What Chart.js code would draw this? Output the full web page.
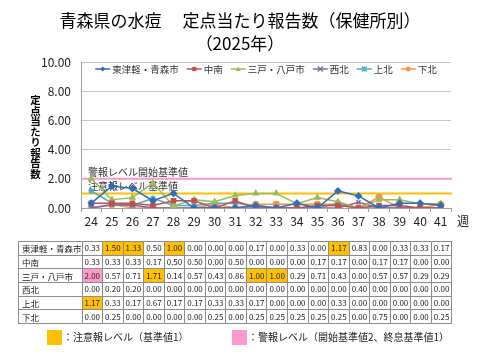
<!DOCTYPE html>
<html lang="ja">
<head>
<meta charset="utf-8">
<script src="https://cdn.jsdelivr.net/npm/chart.js"></script>
<style>
  body { margin: 0; background: #fff; font-family: "Noto Sans CJK JP", "Noto Sans", sans-serif; }
  #wrap { position: relative; width: 480px; height: 360px; overflow: hidden; }
  #chart { position: absolute; left: 0; top: 0; }
  #title { position: absolute; left: 0; top: 8px; width: 480px; text-align: center; font-size: 17px; line-height: 23px; color: #000; white-space: pre; }
  #ytitle { position: absolute; left: 29px; top: 95px; writing-mode: vertical-rl; font-size: 10.5px; font-weight: bold; line-height: 12px; color: #000; }
  #tbl { position: absolute; left: 18px; top: 241px; border-collapse: collapse; table-layout: fixed; font-size: 8px; color: #222; }
  #tbl td { border: 1px solid #8c8c8c; height: 12.7px; padding: 0; text-align: center; white-space: nowrap; overflow: hidden; line-height: 12px; }
  #tbl td.name { text-align: left; padding-left: 3px; font-size: 8.5px; }
  .key { position: absolute; top: 330px; width: 15px; height: 15px; }
  .keytext { position: absolute; top: 329px; font-size: 10px; line-height: 16px; color: #222; white-space: nowrap; }
</style>
</head>
<body>
<div id="wrap">
  <canvas id="chart" width="480" height="360"></canvas>
  <div id="title">青森県の水痘　 定点当たり報告数（保健所別）
（2025年）</div>
  <div id="ytitle">定点当たり報告数</div>
  <table id="tbl"></table>
  <div class="key" style="left:47px;background:#FFC000"></div>
  <div class="keytext" style="left:63px">：注意報レベル（基準値1）</div>
  <div class="key" style="left:232px;background:#FF99CC"></div>
  <div class="keytext" style="left:248px">：警報レベル（開始基準値2、終息基準値1）</div>
</div>
<script>
const FONT = '"Noto Sans CJK JP", "Noto Sans", sans-serif';

// 週
const weeks = ['24', '25', '26', '27', '28', '29', '30', '31', '32', '33', '34', '35', '36', '37', '38', '39', '40', '41'];

// 保健所別 定点当たり報告数
const seriesNames = ['東津軽・青森市', '中南', '三戸・八戸市', '西北', '上北', '下北'];
const higashi   = [0.33, 1.50, 1.33, 0.50, 1.00, 0.00, 0.00, 0.00, 0.17, 0.00, 0.33, 0.00, 1.17, 0.83, 0.00, 0.33, 0.33, 0.17];
const chunan    = [0.33, 0.33, 0.33, 0.17, 0.50, 0.50, 0.00, 0.50, 0.00, 0.00, 0.00, 0.17, 0.17, 0.00, 0.17, 0.17, 0.00, 0.00];
const sannohe   = [2.00, 0.57, 0.71, 1.71, 0.14, 0.57, 0.43, 0.86, 1.00, 1.00, 0.29, 0.71, 0.43, 0.00, 0.57, 0.57, 0.29, 0.29];
const seihoku   = [0.00, 0.20, 0.20, 0.00, 0.00, 0.00, 0.00, 0.00, 0.00, 0.00, 0.00, 0.00, 0.00, 0.40, 0.00, 0.00, 0.00, 0.00];
const kamikita  = [1.17, 0.33, 0.17, 0.67, 0.17, 0.17, 0.33, 0.33, 0.17, 0.00, 0.00, 0.00, 0.33, 0.00, 0.00, 0.00, 0.00, 0.00];
const shimokita = [0.00, 0.25, 0.00, 0.00, 0.00, 0.00, 0.25, 0.00, 0.25, 0.25, 0.25, 0.25, 0.25, 0.00, 0.75, 0.00, 0.00, 0.25];
const seriesValues = [higashi, chunan, sannohe, seihoku, kamikita, shimokita];

const seriesColors = ['#2F6EBA', '#C0504D', '#9BBB59', '#8064A2', '#4BACC6', '#F79646'];
const seriesMarkers = ['rectRot', 'rect', 'triangle', 'crossRot', 'star', 'circle'];

// 基準値
const alarmLevel = 2;
const cautionLevel = 1;

// data table below the chart
function buildTable() {
  const tbl = document.getElementById('tbl');
  const cg = document.createElement('colgroup');
  const c0 = document.createElement('col');
  c0.style.width = '63px';
  cg.appendChild(c0);
  weeks.forEach(() => {
    const c = document.createElement('col');
    c.style.width = (370 / weeks.length) + 'px';
    cg.appendChild(c);
  });
  tbl.appendChild(cg);
  seriesNames.forEach((name, i) => {
    const tr = document.createElement('tr');
    const th = document.createElement('td');
    th.className = 'name';
    th.textContent = name;
    tr.appendChild(th);
    seriesValues[i].forEach((v) => {
      const td = document.createElement('td');
      td.textContent = v.toFixed(2);
      if (v >= alarmLevel) td.style.background = '#FF99CC';
      else if (v >= cautionLevel) td.style.background = '#FFC000';
      tr.appendChild(td);
    });
    tbl.appendChild(tr);
  });
}
buildTable();

function drawMarker(ctx, style, x, y, r, color) {
  ctx.save();
  ctx.fillStyle = color;
  ctx.strokeStyle = color;
  ctx.lineWidth = 1.3;
  ctx.beginPath();
  if (style === 'rectRot') {
    ctx.moveTo(x, y - r); ctx.lineTo(x + r, y); ctx.lineTo(x, y + r); ctx.lineTo(x - r, y); ctx.closePath(); ctx.fill();
  } else if (style === 'rect') {
    ctx.rect(x - r * 0.85, y - r * 0.85, r * 1.7, r * 1.7); ctx.fill();
  } else if (style === 'triangle') {
    ctx.moveTo(x, y - r); ctx.lineTo(x + r, y + r * 0.75); ctx.lineTo(x - r, y + r * 0.75); ctx.closePath(); ctx.fill();
  } else if (style === 'crossRot') {
    ctx.moveTo(x - r, y - r); ctx.lineTo(x + r, y + r); ctx.moveTo(x + r, y - r); ctx.lineTo(x - r, y + r); ctx.stroke();
  } else if (style === 'star') {
    ctx.moveTo(x - r, y - r); ctx.lineTo(x + r, y + r); ctx.moveTo(x + r, y - r); ctx.lineTo(x - r, y + r);
    ctx.moveTo(x, y - r); ctx.lineTo(x, y + r); ctx.stroke();
  } else {
    ctx.arc(x, y, r, 0, Math.PI * 2); ctx.fill();
  }
  ctx.restore();
}

const extras = {
  id: 'extras',
  beforeDatasetsDraw(chart) {
    const { ctx, chartArea: a, scales: { y } } = chart;
    ctx.save();
    [[alarmLevel, '#F49AC8', '警報レベル開始基準値'], [cautionLevel, '#FFC000', '注意報レベル基準値']].forEach(([v, c, t]) => {
      const py = y.getPixelForValue(v);
      ctx.strokeStyle = c;
      ctx.lineWidth = 2;
      ctx.beginPath();
      ctx.moveTo(a.left, py);
      ctx.lineTo(a.right + 1, py);
      ctx.stroke();
      ctx.fillStyle = '#333';
      ctx.font = '10px ' + FONT;
      ctx.textBaseline = 'alphabetic';
      ctx.fillText(t, a.left + 7, py - 3);
    });
    ctx.restore();
  },
  afterDatasetsDraw(chart) {
    const { ctx, chartArea: a } = chart;
    ctx.save();
    // legend inside the plot
    ctx.font = '9.5px ' + FONT;
    const gap = 8, mw = 15;
    const widths = seriesNames.map((n) => mw + 2 + ctx.measureText(n).width);
    const total = widths.reduce((s, w) => s + w, 0) + gap * (widths.length - 1);
    let x = (a.left + a.right) / 2 - total / 2;
    const ly = a.top + 7;
    seriesNames.forEach((n, i) => {
      ctx.strokeStyle = seriesColors[i];
      ctx.lineWidth = 1.5;
      ctx.beginPath();
      ctx.moveTo(x, ly);
      ctx.lineTo(x + mw, ly);
      ctx.stroke();
      drawMarker(ctx, seriesMarkers[i], x + mw / 2, ly, 2.5, seriesColors[i]);
      ctx.fillStyle = '#333';
      ctx.textBaseline = 'middle';
      ctx.fillText(n, x + mw + 2, ly);
      x += widths[i] + gap;
    });
    // 週
    ctx.font = '12px ' + FONT;
    ctx.fillStyle = '#222';
    ctx.textBaseline = 'middle';
    ctx.fillText('週', a.right + 6, 221);
    ctx.restore();
  }
};

new Chart(document.getElementById('chart'), {
  type: 'line',
  data: {
    labels: weeks,
    datasets: seriesNames.map((n, i) => ({
      label: n,
      data: seriesValues[i],
      borderColor: seriesColors[i],
      backgroundColor: seriesColors[i],
      pointStyle: seriesMarkers[i],
      pointRadius: 3,
      pointBorderWidth: 1.3,
      borderWidth: 1.5,
      tension: 0,
      fill: false,
    })),
  },
  options: {
    responsive: false,
    animation: false,
    layout: { padding: { top: 62, right: 29, left: 0, bottom: 0 } },
    scales: {
      x: {
        offset: true,
        grid: { display: true, drawOnChartArea: false, offset: true, tickLength: 4, color: '#a0a0a0' },
        border: { color: '#a0a0a0' },
        ticks: { font: { size: 12, family: FONT }, color: '#222', padding: 2, maxRotation: 0 },
        afterFit: (s) => { s.height = 152; },
      },
      y: {
        min: 0,
        max: 10,
        ticks: { stepSize: 1, font: { size: 12, family: FONT }, color: '#222', padding: 10, callback: (v) => v.toFixed(2) },
        grid: { color: '#c4c4c4', drawTicks: false },
        border: { color: '#a0a0a0' },
        afterFit: (s) => { s.width = 81; },
      },
    },
    plugins: {
      legend: { display: false },
      title: { display: false },
      tooltip: { enabled: false },
    },
  },
  plugins: [extras],
});
</script>
</body>
</html>
